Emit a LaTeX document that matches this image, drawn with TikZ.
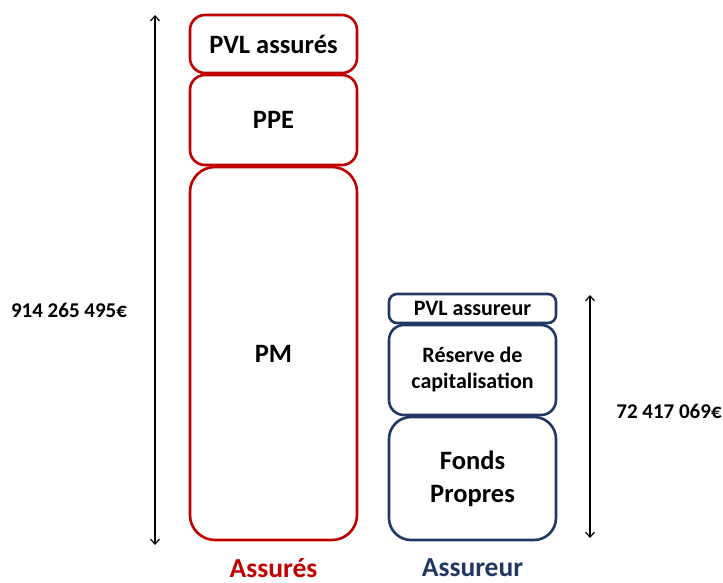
\documentclass[tikz,border=0pt]{standalone}
\usepackage{fontspec}
\setmainfont{Carlito}
\usepackage{tikz}
\usetikzlibrary{arrows.meta, positioning}
\definecolor{assred}{HTML}{C00000}
\definecolor{assblue}{HTML}{1F3864}
\tikzset{
    redbox/.style={rectangle, draw=assred, line width=2.6pt, minimum width=167pt, inner sep=0pt, align=center, rounded corners=15pt, font=\fontsize{26.5}{30}\selectfont\bfseries},
    bluebox/.style={rectangle, draw=assblue, line width=2.6pt, minimum width=167pt, inner sep=0pt, align=center, rounded corners=15pt, font=\fontsize{22}{26}\selectfont\bfseries},
    amount/.style={font=\fontsize{21}{24}\selectfont\bfseries},
    caption/.style={font=\fontsize{27.5}{30}\selectfont\bfseries},
    span/.style={{Straight Barb[length=5pt,width=9pt]}-{Straight Barb[length=5pt,width=9pt]}, line width=1.2pt},
}
\begin{document}
\begin{tikzpicture}[x=1pt, y=-1pt]
    \useasboundingbox (0,0) rectangle (723,583);

    % cote assures
    \node[redbox, minimum height=58pt] (pvla) at (273.5,44) {PVL assurés};
    \node[redbox, minimum height=90pt] (ppe) at (273.5,120) {PPE};
    \node[redbox, minimum height=373pt, rounded corners=25pt] (pm) at (273.5,353.5) {PM};

    % cote assureur
    \node[bluebox, minimum height=29pt, rounded corners=8pt] (pvlb) at (472.5,308.5) {PVL assureur};
    \node[bluebox, minimum height=90pt] (reserve) at (472.5,370) {Réserve de\\capitalisation};
    \node[bluebox, minimum height=123pt, rounded corners=22pt, font=\fontsize{26.5}{33}\selectfont\bfseries] (fonds) at (472.5,478.5) {Fonds\\Propres};

    % hauteurs
    \coordinate (ltop) at (155,15);
    \coordinate (lbot) at (155,545);
    \draw[span] (ltop) -- (lbot);
    \node[amount] (totala) at (69,310) {914 265 495€};

    \coordinate (rtop) at (590,295);
    \coordinate (rbot) at (590,538);
    \draw[span] (rtop) -- (rbot);
    \node[amount] (totalb) at (669,411) {72 417 069€};

    % legendes
    \node[caption, text=assred] (capa) at (273.5,568) {Assurés};
    \node[caption, text=assblue] (capb) at (472.5,568) {Assureur};
\end{tikzpicture}
\end{document}
